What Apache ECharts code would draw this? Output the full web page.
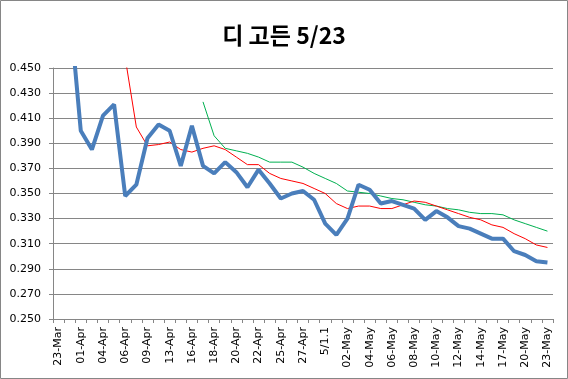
<!DOCTYPE html>
<html>
<head>
<meta charset="utf-8">
<script src="https://cdn.jsdelivr.net/npm/echarts@6/dist/echarts.min.js"></script>
<style>
html,body{margin:0;padding:0;background:#fff;}
#c{width:568px;height:379px;}
</style>
</head>
<body>
<div id="c"></div>
<script>
const titleText = '디 고든 5/23';
const categories = ['23-Mar','31-Mar','01-Apr','03-Apr','04-Apr','05-Apr','06-Apr','07-Apr','09-Apr','11-Apr','13-Apr','14-Apr','16-Apr','17-Apr','18-Apr','19-Apr','20-Apr','21-Apr','22-Apr','24-Apr','25-Apr','26-Apr','27-Apr','28-Apr','5/1.1','5/1.2','02-May','03-May','04-May','05-May','06-May','07-May','08-May','09-May','10-May','11-May','12-May','13-May','14-May','15-May','17-May','18-May','20-May','21-May','23-May'];
const avg = [null,0.498,0.400,0.385,0.412,0.421,0.348,0.357,0.394,0.405,0.400,0.372,0.404,0.372,0.366,0.375,0.367,0.355,0.369,0.358,0.346,0.350,0.352,0.345,0.326,0.317,0.330,0.357,0.353,0.342,0.344,0.341,0.338,0.329,0.336,0.331,0.324,0.322,0.318,0.314,0.314,0.304,0.301,0.296,0.295];
const redLine = [null,null,null,null,null,null,0.458,0.403,0.388,0.389,0.391,0.385,0.383,0.386,0.388,0.385,0.379,0.373,0.373,0.366,0.362,0.360,0.358,0.354,0.350,0.342,0.338,0.340,0.340,0.338,0.338,0.341,0.344,0.343,0.340,0.337,0.334,0.331,0.329,0.325,0.323,0.318,0.314,0.309,0.307];
const greenLine = [null,null,null,null,null,null,null,null,null,null,null,null,null,0.423,0.396,0.386,0.384,0.382,0.379,0.375,0.375,0.375,0.371,0.366,0.362,0.358,0.352,0.351,0.350,0.348,0.346,0.345,0.343,0.341,0.340,0.338,0.337,0.335,0.334,0.334,0.333,0.329,0.326,0.323,0.320];
const yMin = 0.25, yMax = 0.45, yStep = 0.02;

const chart = echarts.init(document.getElementById('c'), null, {renderer:'canvas'});
const axisGray = '#868686';
chart.setOption({
  animation:false,
  backgroundColor:'#fff',
  title:{
    text:titleText, left:'center', top:19,
    textStyle:{fontFamily:'"Noto Sans CJK KR"', fontSize:23, fontWeight:'bold', color:'#000'}
  },
  graphic:[{type:'rect', shape:{x:0.5,y:0.5,width:567,height:378}, style:{fill:'none', stroke:axisGray, lineWidth:1}, silent:true}],
  grid:{left:53, right:15, top:68, bottom:60, containLabel:false},
  xAxis:{
    type:'category', data:categories, boundaryGap:true,
    axisLine:{lineStyle:{color:axisGray, width:1}},
    axisTick:{show:true, interval:0, length:4, lineStyle:{color:axisGray}},
    axisLabel:{interval:1, rotate:90, margin:8, fontFamily:'"DejaVu Sans"', fontSize:11, color:'#000'},
    splitLine:{show:false}
  },
  yAxis:{
    type:'value', min:yMin, max:yMax, interval:yStep,
    axisLine:{show:true, lineStyle:{color:axisGray, width:1}},
    axisTick:{show:true, length:4, lineStyle:{color:axisGray}},
    axisLabel:{margin:12, fontFamily:'"DejaVu Sans"', fontSize:11, color:'#000', formatter:v=>v.toFixed(3)},
    splitLine:{show:true, lineStyle:{color:axisGray, width:1}}
  },
  series:[
    {name:'avg', type:'line', data:avg, symbol:'none', connectNulls:false, lineStyle:{color:'#4a7ebb', width:4}, z:5},
    {name:'red', type:'line', data:redLine, symbol:'none', lineStyle:{color:'#ff0000', width:1}, z:4},
    {name:'green', type:'line', data:greenLine, symbol:'none', lineStyle:{color:'#00b050', width:1}, z:3}
  ]
});
</script>
</body>
</html>
